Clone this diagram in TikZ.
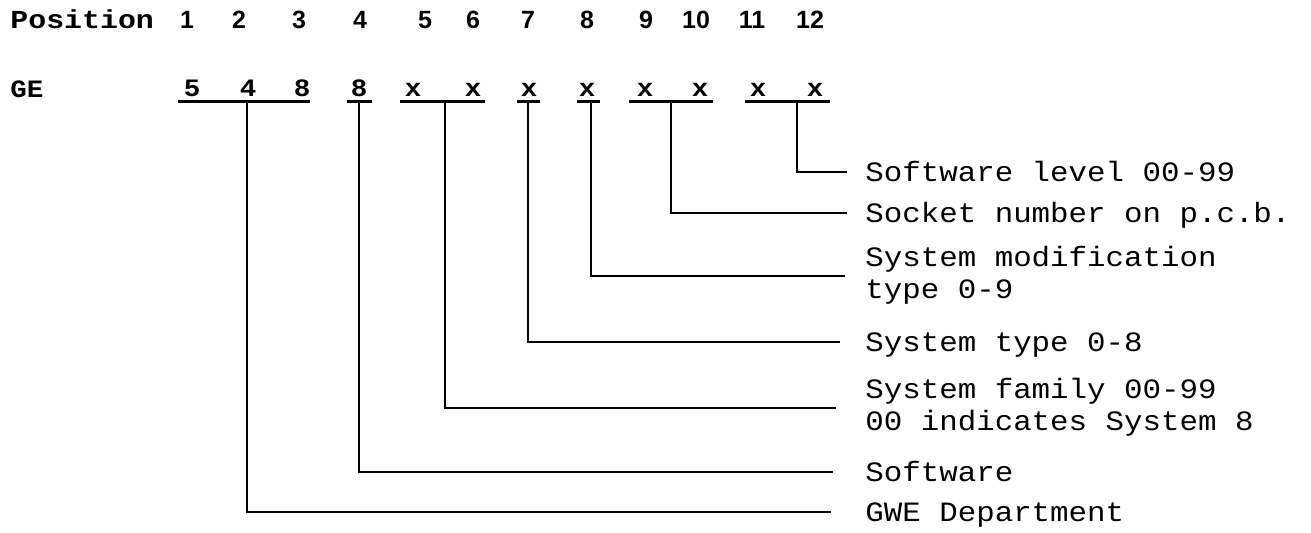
\documentclass[tikz,border=0pt]{standalone}
\usepackage{fontspec}
\newfontfamily\monof[FakeStretch=1.1]{Liberation Mono}
\newfontfamily\headf[FakeStretch=1.15]{Liberation Mono}
\newfontfamily\sansf{Liberation Sans}
\begin{document}
\begin{tikzpicture}[x=0.5pt, y=-0.5pt,
  headtxt/.style={font=\headf\bfseries\fontsize{13}{15}\selectfont, anchor=base west, inner sep=0},
  gehead/.style={font=\monof\bfseries\fontsize{12.5}{14}\selectfont, anchor=base west, inner sep=0},
  posnum/.style={font=\sansf\bfseries\fontsize{12.5}{14}\selectfont, anchor=base, inner sep=0},
  codech/.style={font=\monof\bfseries\fontsize{12.5}{14}\selectfont, anchor=base, inner sep=0},
  desc/.style={font=\monof\fontsize{14}{16}\selectfont, anchor=base west, inner sep=0},
  underl/.style={line width=1.5pt},
  lead/.style={line width=1.4pt}]
\useasboundingbox (0,0) rectangle (1311,532);

% header row: character positions
\node[headtxt] (position) at (10,28) {Position};
\foreach \n/\x in {1/187,2/239,3/299,4/360,5/425,6/473,7/528,8/587,9/646,10/696,11/752,12/810}
  \node[posnum] (p\n) at (\x,28) {\n};

% code row
\node[gehead] (ge) at (10,97) {GE};
\foreach \n/\x/\c in {1/192/5,2/248/4,3/302/8,4/359/8,5/413/x,6/473/x,7/529/x,8/587/x,9/645/x,10/700/x,11/758/x,12/815/x}
  \node[codech] (c\n) at (\x,96) {\c};

% underlines grouping the code characters
\draw[underl] (178,101) -- (310,101);
\draw[underl] (347,101) -- (372,101);
\draw[underl] (400,101) -- (485,101);
\draw[underl] (517,101) -- (540,101);
\draw[underl] (577,101) -- (600,101);
\draw[underl] (629,101) -- (713,101);
\draw[underl] (745,101) -- (830,101);

% tops of the leaders under each group
\coordinate (s1) at (247,101);
\coordinate (s2) at (359,101);
\coordinate (s3) at (445,101);
\coordinate (s4) at (528,101);
\coordinate (s5) at (591,101);
\coordinate (s6) at (671,101);
\coordinate (s7) at (797,101);

% free ends of the leaders, next to the descriptions
\coordinate (e7) at (847,172);
\coordinate (e6) at (847,213);
\coordinate (e5) at (845,276);
\coordinate (e4) at (840,342);
\coordinate (e3) at (836,408);
\coordinate (e2) at (833,472);
\coordinate (e1) at (831,512);

% descriptions
\node[desc] (level)   at (865,181) {Software level 00-99};
\node[desc] (socket)  at (865,222) {Socket number on p.c.b.};
\node[desc] (modif)   at (865,266) {System modification};
\node[desc] (modifb)  at (865,298) {type 0-9};
\node[desc] (stype)   at (865,351) {System type 0-8};
\node[desc] (family)  at (865,398) {System family 00-99};
\node[desc] (familyb) at (865,430) {00 indicates System 8};
\node[desc] (soft)    at (865,481) {Software};
\node[desc] (gwe)     at (865,521) {GWE Department};

% leaders
\draw[lead] (s7) |- (e7);
\draw[lead] (s6) |- (e6);
\draw[lead] (s5) |- (e5);
\draw[lead] (s4) |- (e4);
\draw[lead] (s3) |- (e3);
\draw[lead] (s2) |- (e2);
\draw[lead] (s1) |- (e1);
\end{tikzpicture}
\end{document}
